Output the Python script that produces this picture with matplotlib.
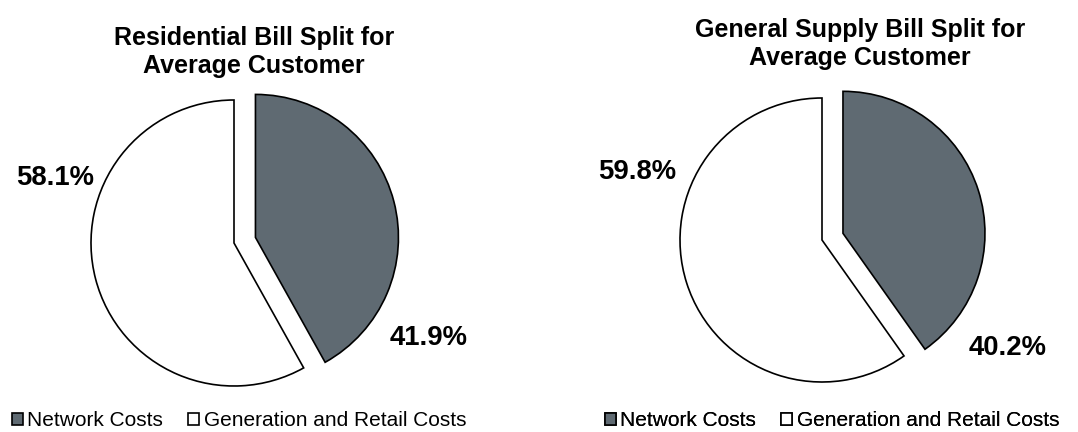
import matplotlib
matplotlib.use("Agg")
import matplotlib.pyplot as plt

plt.rcParams['font.family'] = ['Liberation Sans', 'DejaVu Sans']

# data
categories = ["Network Costs", "Generation and Retail Costs"]
residential = [41.9, 58.1]
general_supply = [40.2, 59.8]
titles = ["Residential Bill Split for\nAverage Customer",
          "General Supply Bill Split for\nAverage Customer"]

colors = ["#5f6a72", "#ffffff"]

W, H = 1078, 432
fig = plt.figure(figsize=(W / 100, H / 100), dpi=100)
ax = fig.add_axes([0, 0, 1, 1])

# layout per pie: centre, radius, title position, label positions, legend anchor
layouts = [
    dict(center=(234, 189), r=143, title=(254, 380),
         lab=[(429, 94), (55, 254)], leg=(-1, -11)),
    dict(center=(822, 192), r=142, title=(860, 388),
         lab=[(1008, 84), (637, 260)], leg=(592, -11)),
]

for vals, title, lay in zip([residential, general_supply], titles, layouts):
    r = lay["r"]
    # pie explode is in data units here, so scale by the radius
    wedges, _ = ax.pie(vals, colors=colors, startangle=90, counterclock=False,
                       center=lay["center"], radius=r, explode=[0.155 * r, 0],
                       wedgeprops=dict(edgecolor="black", linewidth=1.2),
                       frame=True)
    ax.text(lay["title"][0], lay["title"][1], title, ha="center", va="center",
            fontsize=18, fontweight="bold", linespacing=1.2)
    for v, (x, y) in zip(vals, lay["lab"]):
        ax.text(x, y, f"{v:.1f}%", ha="center", va="center",
                fontsize=19.8, fontweight="bold")
    leg = ax.legend(wedges, categories, loc="lower left", ncol=2, frameon=False,
                    bbox_to_anchor=(lay["leg"][0] / W, lay["leg"][1] / H),
                    fontsize=15, handlelength=0.55, handleheight=0.55,
                    handletextpad=0.2, columnspacing=1.2, borderpad=0.1)
    ax.add_artist(leg)

ax.set_xlim(0, W)
ax.set_ylim(0, H)
ax.set_aspect("equal")
ax.axis("off")
fig.savefig("out.png", dpi=100)
